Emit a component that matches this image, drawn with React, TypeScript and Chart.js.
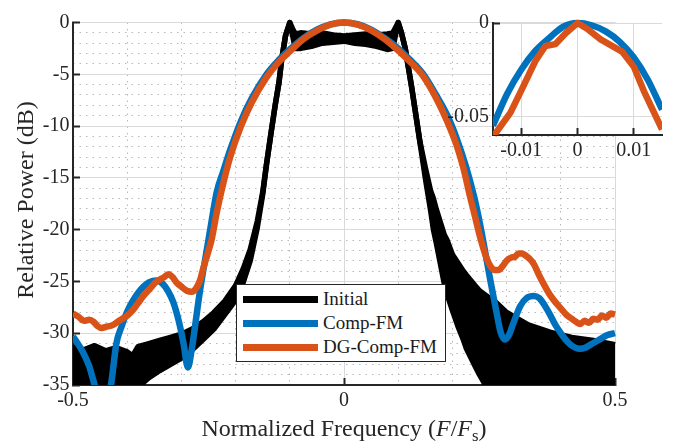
import React, { useEffect, useRef } from "react";
import { Chart, registerables } from "chart.js";
Chart.register(...registerables);

const FONT = "'Liberation Serif', 'Times New Roman', serif";
const TEXT = "#262626";
const BLUE = "#0072BD";
const ORANGE = "#D95319";
const BLACK = "#000000";
const MAJOR_GRID = "#dadada";
const MINOR_GRID = "#b8b8b8";

Chart.defaults.font.family = FONT;

// ---- tick labels ----
const xTicks = [-0.5, 0, 0.5];
const yTicks = [0, -5, -10, -15, -20, -25, -30, -35];
const xMinorTicks = [-0.4, -0.3, -0.2, -0.1, 0.1, 0.2, 0.3, 0.4];
const insetXTicks = [-0.01, 0, 0.01];
const insetYTicks = [0, -0.05];

// ---- Comp-FM (blue) ----
const compX = [-0.5, -0.49, -0.48, -0.47, -0.46, -0.45, -0.44, -0.43, -0.42, -0.41, -0.4, -0.39, -0.38, -0.37, -0.36, -0.346, -0.335, -0.325, -0.315, -0.305, -0.296, -0.288, -0.281, -0.275, -0.266, -0.253, -0.245, -0.235, -0.223, -0.21, -0.19, -0.17, -0.143, -0.12, -0.1, -0.075, -0.05, -0.025, 0, 0.025, 0.05, 0.075, 0.1, 0.12, 0.145, 0.17, 0.19, 0.208, 0.225, 0.24, 0.25, 0.26, 0.27, 0.28, 0.289, 0.297, 0.305, 0.312, 0.325, 0.337, 0.35, 0.36, 0.37, 0.38, 0.39, 0.4, 0.41, 0.42, 0.435, 0.445, 0.455, 0.465, 0.475, 0.485, 0.5];
const compY = [-30.3, -31.1, -32.0, -33.2, -35.0, -36.3, -36.8, -35.0, -31.0, -29.3, -27.9, -26.9, -26.1, -25.5, -25.1, -24.9, -25.2, -25.9, -27.0, -28.8, -31.0, -33.3, -31.6, -29.4, -26.0, -21.9, -19.4, -16.4, -14.4, -12.3, -9.5, -7.3, -5.0, -3.6, -2.6, -1.5, -0.7, -0.18, 0, -0.17, -0.68, -1.5, -2.5, -3.5, -4.9, -7.0, -8.9, -11.2, -13.9, -16.8, -19.2, -22.0, -24.9, -27.6, -29.9, -30.6, -30.1, -29.1, -27.4, -26.6, -26.4, -26.6, -27.3, -28.2, -29.2, -30.0, -30.7, -31.2, -31.5, -31.4, -31.1, -30.8, -30.5, -30.2, -30.0];

// ---- DG-Comp-FM (orange) ----
const dgX = [-0.5, -0.49, -0.48, -0.47, -0.462, -0.455, -0.447, -0.44, -0.426, -0.415, -0.4, -0.39, -0.38, -0.37, -0.358, -0.348, -0.339, -0.332, -0.324, -0.316, -0.309, -0.3, -0.29, -0.281, -0.272, -0.265, -0.26, -0.252, -0.244, -0.235, -0.223, -0.21, -0.19, -0.17, -0.143, -0.12, -0.1, -0.075, -0.05, -0.025, 0, 0.025, 0.05, 0.075, 0.1, 0.12, 0.145, 0.17, 0.19, 0.208, 0.22, 0.2325, 0.242, 0.251, 0.262, 0.27, 0.278, 0.285, 0.293, 0.3, 0.308, 0.316, 0.322, 0.328, 0.335, 0.342, 0.35, 0.36, 0.37, 0.38, 0.39, 0.4, 0.41, 0.42, 0.428, 0.436, 0.444, 0.452, 0.46, 0.468, 0.476, 0.484, 0.492, 0.5];
const dgY = [-28.1, -28.4, -28.8, -28.7, -28.9, -29.3, -29.5, -29.4, -29.2, -28.8, -28.3, -27.8, -27.1, -26.4, -25.7, -25.1, -24.8, -24.6, -24.3, -24.6, -25.1, -25.5, -25.9, -26.0, -25.6, -24.8, -23.8, -22.4, -20.9, -18.4, -15.6, -13.0, -10.0, -7.7, -5.3, -3.8, -2.8, -1.6, -0.78, -0.2, 0, -0.2, -0.75, -1.6, -2.7, -3.7, -5.1, -7.3, -9.5, -11.9, -14.0, -16.8, -18.8, -20.7, -22.6, -23.5, -23.9, -23.9, -23.5, -23.0, -22.7, -22.6, -22.3, -22.3, -22.5, -22.8, -23.3, -24.4, -25.4, -26.3, -27.0, -27.6, -28.2, -28.6, -28.9, -29.1, -28.8, -29.0, -28.6, -28.7, -28.3, -28.5, -28.1, -28.2];

// ---- Initial (black band: upper / lower envelope) ----
const initialX = [-0.5, -0.48, -0.46, -0.44, -0.42, -0.4, -0.39, -0.38, -0.36, -0.34, -0.32, -0.3, -0.28, -0.26, -0.24, -0.22, -0.2, -0.186, -0.173, -0.16, -0.15, -0.143, -0.135, -0.127, -0.12, -0.115, -0.108, -0.1, -0.095, -0.09, -0.08, -0.06, -0.04, -0.02, 0, 0.02, 0.04, 0.06, 0.08, 0.09, 0.095, 0.1, 0.106, 0.113, 0.125, 0.14, 0.15, 0.16, 0.165, 0.17, 0.185, 0.19, 0.2, 0.21, 0.22, 0.226, 0.245, 0.25, 0.263, 0.27, 0.28, 0.3, 0.34, 0.38, 0.42, 0.46, 0.5];
const initialUpper = [-31.3, -31.6, -31.2, -31.7, -31.4, -31.8, -32.2, -31.3, -31.0, -30.7, -30.4, -30.1, -29.6, -28.9, -28.0, -26.9, -25.4, -23.8, -21.9, -19.2, -16.4, -13.7, -10.8, -8.0, -5.8, -3.6, -1.3, 0, -0.6, -1.1, -1.0, -1.1, -1.0, -1.2, -1.3, -1.2, -1.1, -1.2, -1.1, -1.0, -0.5, 0, -1.0, -2.5, -6.3, -11.5, -14.0, -16.3, -17.0, -18.0, -20.5, -21.0, -22.4, -23.2, -24.0, -24.4, -25.6, -25.9, -26.4, -26.7, -27.0, -28.0, -29.2, -29.9, -30.4, -30.7, -31.1];
const initialLower = [-37, -37, -37, -37, -37, -37, -36, -35.2, -34.3, -33.6, -33.0, -32.4, -31.6, -30.6, -29.6, -28.2, -26.8, -25.1, -23.0, -19.8, -16.6, -13.7, -10.8, -8.0, -5.8, -3.6, -1.3, 0, -1.2, -2.5, -2.5, -2.3, -2.0, -1.9, -1.8, -2.0, -2.1, -2.3, -2.6, -2.5, -1.2, 0, -1.0, -2.5, -6.3, -11.5, -15.0, -18.2, -20.0, -21.2, -25.2, -26.2, -27.8, -29.3, -30.6, -31.5, -33.5, -34.0, -35.2, -36, -37, -37, -37, -37, -37, -37, -37];

// ---- inset (zoom around 0) ----
const insetCompX = [-0.015, -0.0125, -0.01, -0.0075, -0.005, -0.0025, 0, 0.0025, 0.005, 0.0075, 0.01, 0.0125, 0.015];
const insetCompY = [-0.055, -0.038, -0.025, -0.015, -0.008, -0.002, 0, -0.0012, -0.0045, -0.0101, -0.0185, -0.0305, -0.0464];
const insetDgX = [-0.015, -0.0119, -0.0098, -0.0075, -0.0057, -0.0039, -0.0021, 0, 0.0017, 0.0041, 0.0079, 0.01, 0.0118, 0.015];
const insetDgY = [-0.061, -0.048, -0.035, -0.0205, -0.0123, -0.0113, -0.0055, 0, -0.0031, -0.0088, -0.0153, -0.0235, -0.0366, -0.057];

const legendItems = [
  { label: "Initial", color: BLACK },
  { label: "Comp-FM", color: BLUE },
  { label: "DG-Comp-FM", color: ORANGE },
];

const pts = (xs: number[], ys: number[]) => xs.map((x, i) => ({ x, y: ys[i] }));
const fmt = (v: any) => {
  const n = Number(v);
  return (n < 0 ? "-" : "") + String(Math.abs(n));
};
const setTicks = (vals: number[]) => (s: any) => {
  s.ticks = vals.map((v) => ({ value: v }));
};

const lineDs = (label: string, xs: number[], ys: number[], color: string, width: number, order: number, extra: any = {}) => ({
  label,
  data: pts(xs, ys),
  borderColor: color,
  backgroundColor: color,
  borderWidth: width,
  pointRadius: 0,
  pointHoverRadius: 0,
  cubicInterpolationMode: "monotone",
  borderCapStyle: "butt",
  borderJoinStyle: "round",
  fill: false,
  order,
  clip: { left: 0, top: 6, right: 3, bottom: 0 },
  ...extra,
});

const whiteArea = {
  id: "whiteArea",
  beforeDraw(chart: any) {
    const { ctx, chartArea: a } = chart;
    ctx.save();
    ctx.fillStyle = "#ffffff";
    ctx.fillRect(a.left, a.top, a.right - a.left, a.bottom - a.top);
    ctx.restore();
  },
};

const majorGrid = { color: MAJOR_GRID, lineWidth: 1, drawTicks: true, tickLength: -7, tickColor: TEXT, tickWidth: 2 };
const minorGrid = { color: MINOR_GRID, lineWidth: 1, drawTicks: false };
const axisBorder = { display: true, color: TEXT, width: 2 };

export default function App() {
  const mainRef = useRef<HTMLCanvasElement>(null);
  const insetRef = useRef<HTMLCanvasElement>(null);

  useEffect(() => {
    const tickFont = { family: FONT, size: 20 };
    const main = new Chart(mainRef.current as HTMLCanvasElement, {
      type: "line",
      data: {
        datasets: [
          lineDs("DG-Comp-FM", dgX, dgY, ORANGE, 6.5, 0),
          lineDs("Comp-FM", compX, compY, BLUE, 6.5, 1),
          lineDs("Initial", initialX, initialUpper, BLACK, 5.5, 2, { fill: "+1", cubicInterpolationMode: "default" }),
          lineDs("Initial (lower)", initialX, initialLower, BLACK, 5.5, 3, { cubicInterpolationMode: "default" }),
        ] as any,
      },
      options: {
        responsive: false,
        maintainAspectRatio: false,
        animation: false,
        devicePixelRatio: 1,
        font: { family: FONT },
        layout: { padding: { left: 0, right: 68, top: 15, bottom: 0 } },
        plugins: { legend: { display: false }, tooltip: { enabled: false } },
        events: [],
        scales: {
          x: {
            type: "linear",
            position: "bottom",
            min: -0.5,
            max: 0.5,
            afterBuildTicks: setTicks(xTicks),
            afterFit: (s: any) => { s.height = 58; },
            ticks: { callback: fmt, font: tickFont, color: TEXT, padding: 11, maxRotation: 0, autoSkip: false },
            grid: majorGrid,
            border: axisBorder,
          },
          xm: {
            type: "linear",
            position: "bottom",
            min: -0.5,
            max: 0.5,
            afterBuildTicks: setTicks(xMinorTicks),
            afterFit: (s: any) => { s.height = 0; },
            ticks: { display: false },
            grid: minorGrid,
            border: { display: false, dash: [1.5, 5] },
          },
          y: {
            type: "linear",
            position: "left",
            min: -35,
            max: 0,
            afterBuildTicks: setTicks(yTicks),
            afterFit: (s: any) => { s.width = 73; },
            ticks: { callback: fmt, font: tickFont, color: TEXT, padding: 10.5, autoSkip: false },
            grid: majorGrid,
            border: axisBorder,
          },
          ym: {
            type: "linear",
            position: "left",
            min: -35,
            max: 0,
            afterBuildTicks: (s: any) => {
              const t: any[] = [];
              for (let v = -34; v <= -1; v++) if (v % 5 !== 0) t.push({ value: v });
              s.ticks = t;
            },
            afterFit: (s: any) => { s.width = 0; },
            ticks: { display: false },
            grid: minorGrid,
            border: { display: false, dash: [1.5, 5] },
          },
        },
      } as any,
    });

    const inset = new Chart(insetRef.current as HTMLCanvasElement, {
      type: "line",
      data: {
        datasets: [
          lineDs("DG-Comp-FM", insetDgX, insetDgY, ORANGE, 6.5, 0, { cubicInterpolationMode: "default", clip: { left: 0, top: 6, right: 0, bottom: 0 } }),
          lineDs("Comp-FM", insetCompX, insetCompY, BLUE, 6.5, 1, { clip: { left: 0, top: 6, right: 0, bottom: 0 } }),
        ] as any,
      },
      options: {
        responsive: false,
        maintainAspectRatio: false,
        animation: false,
        devicePixelRatio: 1,
        font: { family: FONT },
        layout: { padding: { left: 0, right: 21, top: 12, bottom: 0 } },
        plugins: { legend: { display: false }, tooltip: { enabled: false } },
        events: [],
        scales: {
          x: {
            type: "linear",
            position: "bottom",
            min: -0.015,
            max: 0.015,
            afterBuildTicks: setTicks(insetXTicks),
            afterFit: (s: any) => { s.height = 35; },
            ticks: { callback: fmt, font: tickFont, color: TEXT, padding: 11, maxRotation: 0, autoSkip: false },
            grid: majorGrid,
            border: axisBorder,
          },
          y: {
            type: "linear",
            position: "left",
            min: -0.06,
            max: 0,
            afterBuildTicks: setTicks(insetYTicks),
            afterFit: (s: any) => { s.width = 63; },
            ticks: { callback: fmt, font: tickFont, color: TEXT, padding: 11, autoSkip: false },
            grid: majorGrid,
            border: axisBorder,
          },
        },
      } as any,
      plugins: [whiteArea],
    });

    return () => {
      main.destroy();
      inset.destroy();
    };
  }, []);

  return (
    <div style={{ position: "absolute", left: 0, top: 0, width: 683, height: 443, background: "#ffffff", overflow: "hidden" }}>
      <canvas ref={mainRef} width={683} height={443} style={{ position: "absolute", left: 0, top: 0, width: 683, height: 443 }} />
      <canvas ref={insetRef} width={253} height={170} style={{ position: "absolute", left: 430, top: 0, width: 253, height: 170 }} />
      <div
        style={{
          position: "absolute", left: 236, top: 284, width: 210, height: 78, boxSizing: "border-box",
          border: "1px solid #262626", background: "#ffffff", fontFamily: FONT, fontSize: 19, color: "#1a1a1a",
        }}
      >
        {legendItems.map((it, i) => (
          <div key={it.label} style={{ position: "absolute", left: 6, top: 2 + i * 24, height: 24, display: "flex", alignItems: "center" }}>
            <div style={{ width: 75, height: 7, background: it.color }} />
            <span style={{ marginLeft: 5, lineHeight: "24px", whiteSpace: "nowrap" }}>{it.label}</span>
          </div>
        ))}
      </div>
      <div
        style={{
          position: "absolute", left: 25 - 150, top: 200 - 14, width: 300, height: 28, textAlign: "center",
          fontFamily: FONT, fontSize: 24, lineHeight: "28px", color: TEXT, whiteSpace: "nowrap",
          transform: "rotate(-90deg)",
        }}
      >
        Relative Power (dB)
      </div>
      <div
        style={{
          position: "absolute", left: 73, top: 414, width: 542, textAlign: "center",
          fontFamily: FONT, fontSize: 24, lineHeight: "28px", color: TEXT, whiteSpace: "nowrap",
        }}
      >
        Normalized Frequency (<i>F</i>/<i>F</i>
        <span style={{ fontSize: "0.7em", position: "relative", top: "0.3em" }}>s</span>)
      </div>
    </div>
  );
}
